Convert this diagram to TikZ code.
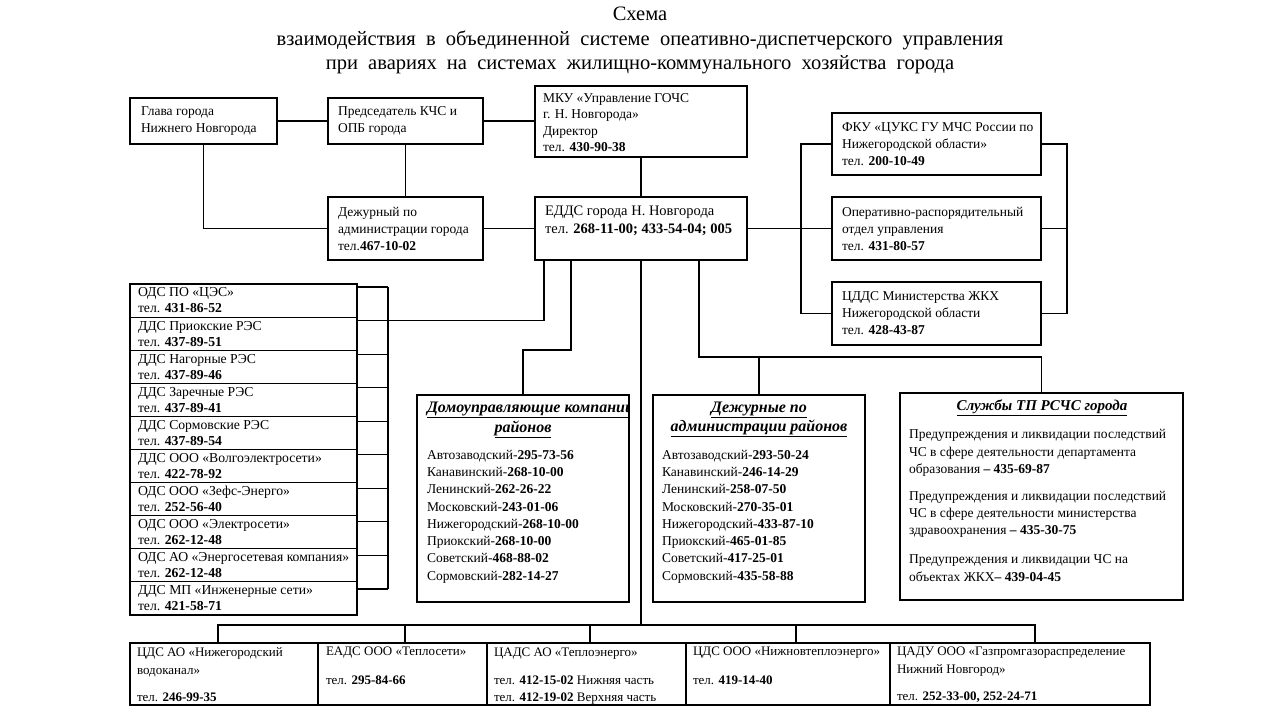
\documentclass[tikz,border=0pt]{standalone}
\usepackage{fontspec}
\setmainfont{Liberation Serif}
\usetikzlibrary{calc}
\newcommand\bodyfont{\fontsize{13.5}{17}\selectfont}
\newcommand\cellfont{\fontsize{13}{17.5}\selectfont}
\newcommand\headfont{\fontsize{16}{19}\selectfont\bfseries\itshape}
\newcommand\ttlfont{\fontsize{20.5}{24.5}\selectfont\spaceskip=0.5em plus 0.1em\relax}
\newcommand\ulx[1]{\underline{#1}}
\tikzset{
  box/.style={draw, line width=1.1pt, inner sep=0pt, outer sep=0pt, anchor=north west},
  conn/.style={line width=1.1pt},
  txt/.style={inner sep=0pt, outer sep=0pt, align=left, anchor=west, font=\bodyfont},
  ctxt/.style={inner sep=0pt, outer sep=0pt, align=left, anchor=west, font=\cellfont},
}
\begin{document}
\begin{tikzpicture}[x=1pt,y=-1pt]
\fill[white] (0,0) rectangle (1280,720);
\useasboundingbox (0,0) rectangle (1280,720);

% title
\node[inner sep=0pt, align=center, font=\ttlfont] (title) at (640,40.5)
  {Схема\\взаимодействия в объединенной системе опеативно-диспетчерского управления\\при авариях на системах жилищно-коммунального хозяйства города};

% upper boxes
\node[box, minimum width=147pt, minimum height=46pt] (glava) at (130,98) {};
\node[box, minimum width=155pt, minimum height=46pt] (pred) at (328,98) {};
\node[box, minimum width=212pt, minimum height=71pt] (mku) at (535,86) {};
\node[box, minimum width=155pt, minimum height=63pt] (dej) at (328,197) {};
\node[box, minimum width=212pt, minimum height=63pt] (edds) at (535,197) {};
\node[box, minimum width=209pt, minimum height=62pt] (fku) at (832,113) {};
\node[box, minimum width=209pt, minimum height=63pt] (oper) at (832,197) {};
\node[box, minimum width=209pt, minimum height=63pt] (cdds) at (832,282) {};

\node[txt] (glavat) at ($(glava.west)+(11,0)$) {Глава города\\Нижнего Новгорода};
\node[txt] (predt) at ($(pred.west)+(10,0)$) {Председатель КЧС и\\ОПБ города};
\node[txt, font=\fontsize{13.5}{16.5}\selectfont] (mkut) at ($(mku.west)+(8,1)$) {МКУ «Управление ГОЧС\\г. Н. Новгорода»\\Директор\\тел. \textbf{430-90-38}};
\node[txt] (dejt) at ($(dej.west)+(10,0)$) {Дежурный по\\администрации города\\тел.\textbf{467-10-02}};
\node[txt, anchor=north west, font=\fontsize{14.5}{18}\selectfont] (eddst) at ($(edds.north west)+(10,9)$) {ЕДДС города Н. Новгорода\\тел. \textbf{268-11-00; 433-54-04; 005}};
\node[txt] (fkut) at ($(fku.west)+(10,0)$) {ФКУ «ЦУКС ГУ МЧС России по\\Нижегородской области»\\тел. \textbf{200-10-49}};
\node[txt] (opert) at ($(oper.west)+(10,0)$) {Оперативно-распорядительный\\отдел управления\\тел. \textbf{431-80-57}};
\node[txt] (cddst) at ($(cdds.west)+(10,0)$) {ЦДДС Министерства ЖКХ\\Нижегородской области\\тел. \textbf{428-43-87}};

% upper connectors
\draw[conn] (glava.east) -- (pred.west);
\draw[conn] (pred.east) -- (pred.east -| mku.west);
\draw[conn] (pred.south) -- (dej.north);
\draw[conn] (glava.south) |- (dej.west);
\draw[conn] (mku.south) -- (edds.north);
\draw[conn] (dej.east) -- (edds.west);
\draw[conn] (edds.east) -- (oper.west);
\draw[conn] (fku.west) -- ++(-31,0) |- (cdds.west);
\draw[conn] (fku.east) -- ++(26,0) |- (cdds.east);
\draw[conn] (oper.east) -- ++(26,0);

% left list
\foreach \i/\a/\b in {1/{ОДС ПО «ЦЭС»}/{431-86-52},
  2/{ДДС Приокские РЭС}/{437-89-51},
  3/{ДДС Нагорные РЭС}/{437-89-46},
  4/{ДДС Заречные РЭС}/{437-89-41},
  5/{ДДС Сормовские РЭС}/{437-89-54},
  6/{ДДС ООО «Волгоэлектросети»}/{422-78-92},
  7/{ОДС ООО «Зефс-Энерго»}/{252-56-40},
  8/{ОДС ООО «Электросети»}/{262-12-48},
  9/{ОДС АО «Энергосетевая компания»}/{262-12-48},
  10/{ДДС МП «Инженерные сети»}/{421-58-71}}{
  \node[box, minimum width=227pt, minimum height=33.1pt] (r\i) at (130,{284+(\i-1)*33.1}) {};
  \node[txt, font=\fontsize{13.7}{16}\selectfont] (r\i t) at ($(r\i.west)+(8,0)$) {\a\\тел. \textbf{\b}};
  \draw[conn] ([yshift={-(3+0.45*(\i-1))*1pt}]r\i.north east) -- ++(31,0);
}
\draw[conn] ([xshift=31pt,yshift=-3pt]r1.north east) -- ([xshift=31pt,yshift=-7.05pt]r10.north east);
\draw[conn] ([xshift=9pt]edds.south west) |- ([xshift=31pt,yshift=-3.45pt]r2.north east);

% middle boxes
\node[box, minimum width=212pt, minimum height=207pt] (dom) at (417,395) {};
\node[box, minimum width=212pt, minimum height=207pt] (dejr) at (653,395) {};
\node[box, minimum width=283pt, minimum height=207pt] (sluz) at (900,393) {};

\begin{scope}
\clip (dom.north west) rectangle (dom.south east);
\node[txt, font=\headfont] (domh1) at (427,410) {\ulx{Домоуправляющие компании}};
\end{scope}
\node[inner sep=0pt, font=\headfont] (domh2) at (523,429) {\ulx{районов}};
\node[txt, font=\fontsize{13.5}{17.3}\selectfont] (doml) at (427,516.5) {Автозаводский-\textbf{295-73-56}\\Канавинский-\textbf{268-10-00}\\Ленинский-\textbf{262-26-22}\\Московский-\textbf{243-01-06}\\Нижегородский-\textbf{268-10-00}\\Приокский-\textbf{268-10-00}\\Советский-\textbf{468-88-02}\\Сормовский-\textbf{282-14-27}};

\node[inner sep=0pt, align=center, font=\headfont] (dejrh) at (759,419) {\ulx{Дежурные по}\\\ulx{администрации районов}};
\node[txt, font=\fontsize{13.5}{17.3}\selectfont] (dejrl) at (662,516.5) {Автозаводский-\textbf{293-50-24}\\Канавинский-\textbf{246-14-29}\\Ленинский-\textbf{258-07-50}\\Московский-\textbf{270-35-01}\\Нижегородский-\textbf{433-87-10}\\Приокский-\textbf{465-01-85}\\Советский-\textbf{417-25-01}\\Сормовский-\textbf{435-58-88}};

\node[inner sep=0pt, font=\fontsize{15}{19}\selectfont\bfseries\itshape] (sluzh) at (1042,408) {\ulx{Службы ТП РСЧС города}};
\node[txt, font=\fontsize{13.5}{17.3}\selectfont] (p1) at (909,453) {Предупреждения и ликвидации последствий\\ЧС в сфере деятельности департамента\\образования \textbf{– 435-69-87}};
\node[txt, font=\fontsize{13.5}{17.3}\selectfont] (p2) at (909,514.5) {Предупреждения и ликвидации последствий\\ЧС в сфере деятельности министерства\\здравоохранения \textbf{– 435-30-75}};
\node[txt, font=\fontsize{13.5}{17.3}\selectfont] (p3) at (909,568) {Предупреждения и ликвидации ЧС на\\объектах ЖКХ\textbf{– 439-04-45}};

% middle connectors
\draw[conn] ([xshift=36pt]edds.south west) -- ++(0,90) -| (dom.north);
\coordinate (jr) at ($([xshift=164pt]edds.south west)+(0,97)$);
\draw[conn] ([xshift=164pt]edds.south west) -- (jr) -| (sluz.north);
\draw[conn] (dejr.north) -- (dejr.north |- jr);

% bottom cells
\node[box, minimum width=188pt, minimum height=62pt] (c1) at (130,643) {};
\node[box, minimum width=169pt, minimum height=62pt] (c2) at (318,643) {};
\node[box, minimum width=199pt, minimum height=62pt] (c3) at (487,643) {};
\node[box, minimum width=204pt, minimum height=62pt] (c4) at (686,643) {};
\node[box, minimum width=260pt, minimum height=62pt] (c5) at (890,643) {};

\node[ctxt] (c1t) at ($(c1.west)+(7,0.5)$) {ЦДС АО «Нижегородский\\водоканал»\\[9.5pt]тел. \textbf{246-99-35}};
\node[ctxt] (c2t) at ($(c2.west)+(8,-8)$) {ЕАДС ООО «Теплосети»\\[11pt]тел. \textbf{295-84-66}};
\node[ctxt] (c3t) at ($(c3.west)+(7,2.5)$) {ЦАДС АО «Теплоэнерго»\\[10pt]тел. \textbf{412-15-02} Нижняя часть\\тел. \textbf{412-19-02} Верхняя часть};
\node[ctxt] (c4t) at ($(c4.west)+(7,-8)$) {ЦДС ООО «Нижновтеплоэнерго»\\[11pt]тел. \textbf{419-14-40}};
\node[ctxt] (c5t) at ($(c5.west)+(7,0.5)$) {ЦАДУ ООО «Газпромгазораспределение\\Нижний Новгород»\\[9.5pt]тел. \textbf{252-33-00, 252-24-71}};

% bottom bus
\coordinate (bus) at (640,625);
\draw[conn] (edds.south) -- (edds.south |- bus);
\draw[conn] ([xshift=88pt]c1.north west) |- ([xshift=145pt]c5.north west |- bus) -- ([xshift=145pt]c5.north west);
\draw[conn] ([xshift=87pt]c2.north west) -- ([xshift=87pt]c2.north west |- bus);
\draw[conn] ([xshift=103pt]c3.north west) -- ([xshift=103pt]c3.north west |- bus);
\draw[conn] ([xshift=110pt]c4.north west) -- ([xshift=110pt]c4.north west |- bus);
\end{tikzpicture}
\end{document}
